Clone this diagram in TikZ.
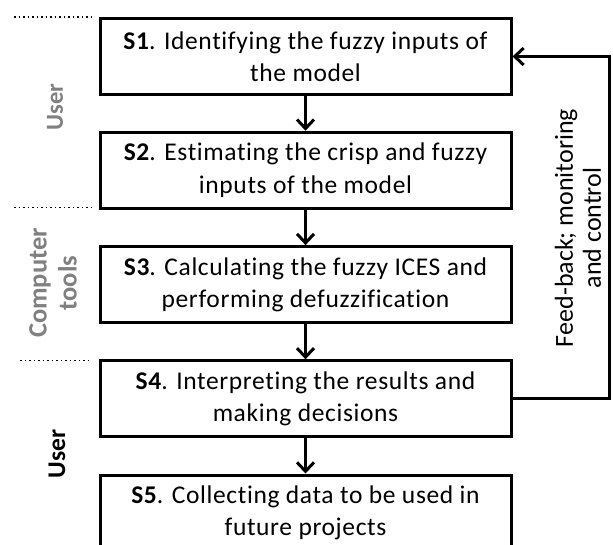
\documentclass[tikz,border=0pt]{standalone}
\usepackage{fontspec}
\setmainfont{Carlito}[Ligatures=NoCommon]
\newfontfamily\boxfont{Carlito}[Ligatures=NoCommon, LetterSpace=2.5]
\usetikzlibrary{arrows.meta}
\definecolor{labelgray}{RGB}{128,128,128}
\begin{document}
\begin{tikzpicture}[x=1pt,y=-1pt,
  stepbox/.style={draw, line width=3pt, minimum width=411pt, minimum height=76pt,
    align=center, inner sep=0pt, font=\boxfont\fontsize{25.5}{32.5}\selectfont},
  flow/.style={line width=3pt, -{Straight Barb[length=9pt,width=17pt]}},
  sep/.style={line width=1.6pt, dash pattern=on 1.6pt off 2.9pt},
  rolelabel/.style={rotate=90, align=center, font=\bfseries\fontsize{26.5}{30}\selectfont}]
\useasboundingbox (0,0) rectangle (613,545);
% separators
\coordinate (d1a) at (14,17.3); \coordinate (d1b) at (91,17.3);
\coordinate (d2a) at (14,207.5); \coordinate (d2b) at (91,207.5);
\coordinate (d3a) at (20,360.5); \coordinate (d3b) at (91,360.5);
\draw[sep] (d1a) -- (d1b);
\draw[sep] (d2a) -- (d2b);
\draw[sep] (d3a) -- (d3b);
% steps
\node[stepbox] (s1) at (305.5,56.5) {\textbf{S1}. Identifying the fuzzy inputs of\\the model};
\node[stepbox] (s2) at (305.5,170.2) {\textbf{S2}. Estimating the crisp and fuzzy\\inputs of the model};
\node[stepbox] (s3) at (305.5,284.6) {\textbf{S3}. Calculating the fuzzy ICES and\\performing defuzzification};
\node[stepbox] (s4) at (305.5,398.8) {\textbf{S4}. Interpreting the results and\\making decisions};
\node[stepbox] (s5) at (305.5,513) {\textbf{S5}. Collecting data to be used in\\future projects};
\draw[flow] (s1) -- (s2);
\draw[flow] (s2) -- (s3);
\draw[flow] (s3) -- (s4);
\draw[flow] (s4) -- (s5);
% feedback
\coordinate (fb) at (609,0);
\draw[flow] (s4.east) -- (s4.east -| fb) -- (s1.east -| fb) -- (s1.east);
\node[rotate=90, align=center, font=\fontsize{26}{28}\selectfont] (fbl) at (578,228) {Feed-back; monitoring\\and control};
% role labels
\node[rolelabel, text=labelgray, font=\bfseries\fontsize{24.5}{28}\selectfont] (u1) at (55,107) {User};
\node[rolelabel, text=labelgray] (ct) at (53,283) {Computer\\tools};
\node[rolelabel, font=\bfseries\fontsize{25.5}{30}\selectfont] (u2) at (57,454) {User};
\end{tikzpicture}
\end{document}
